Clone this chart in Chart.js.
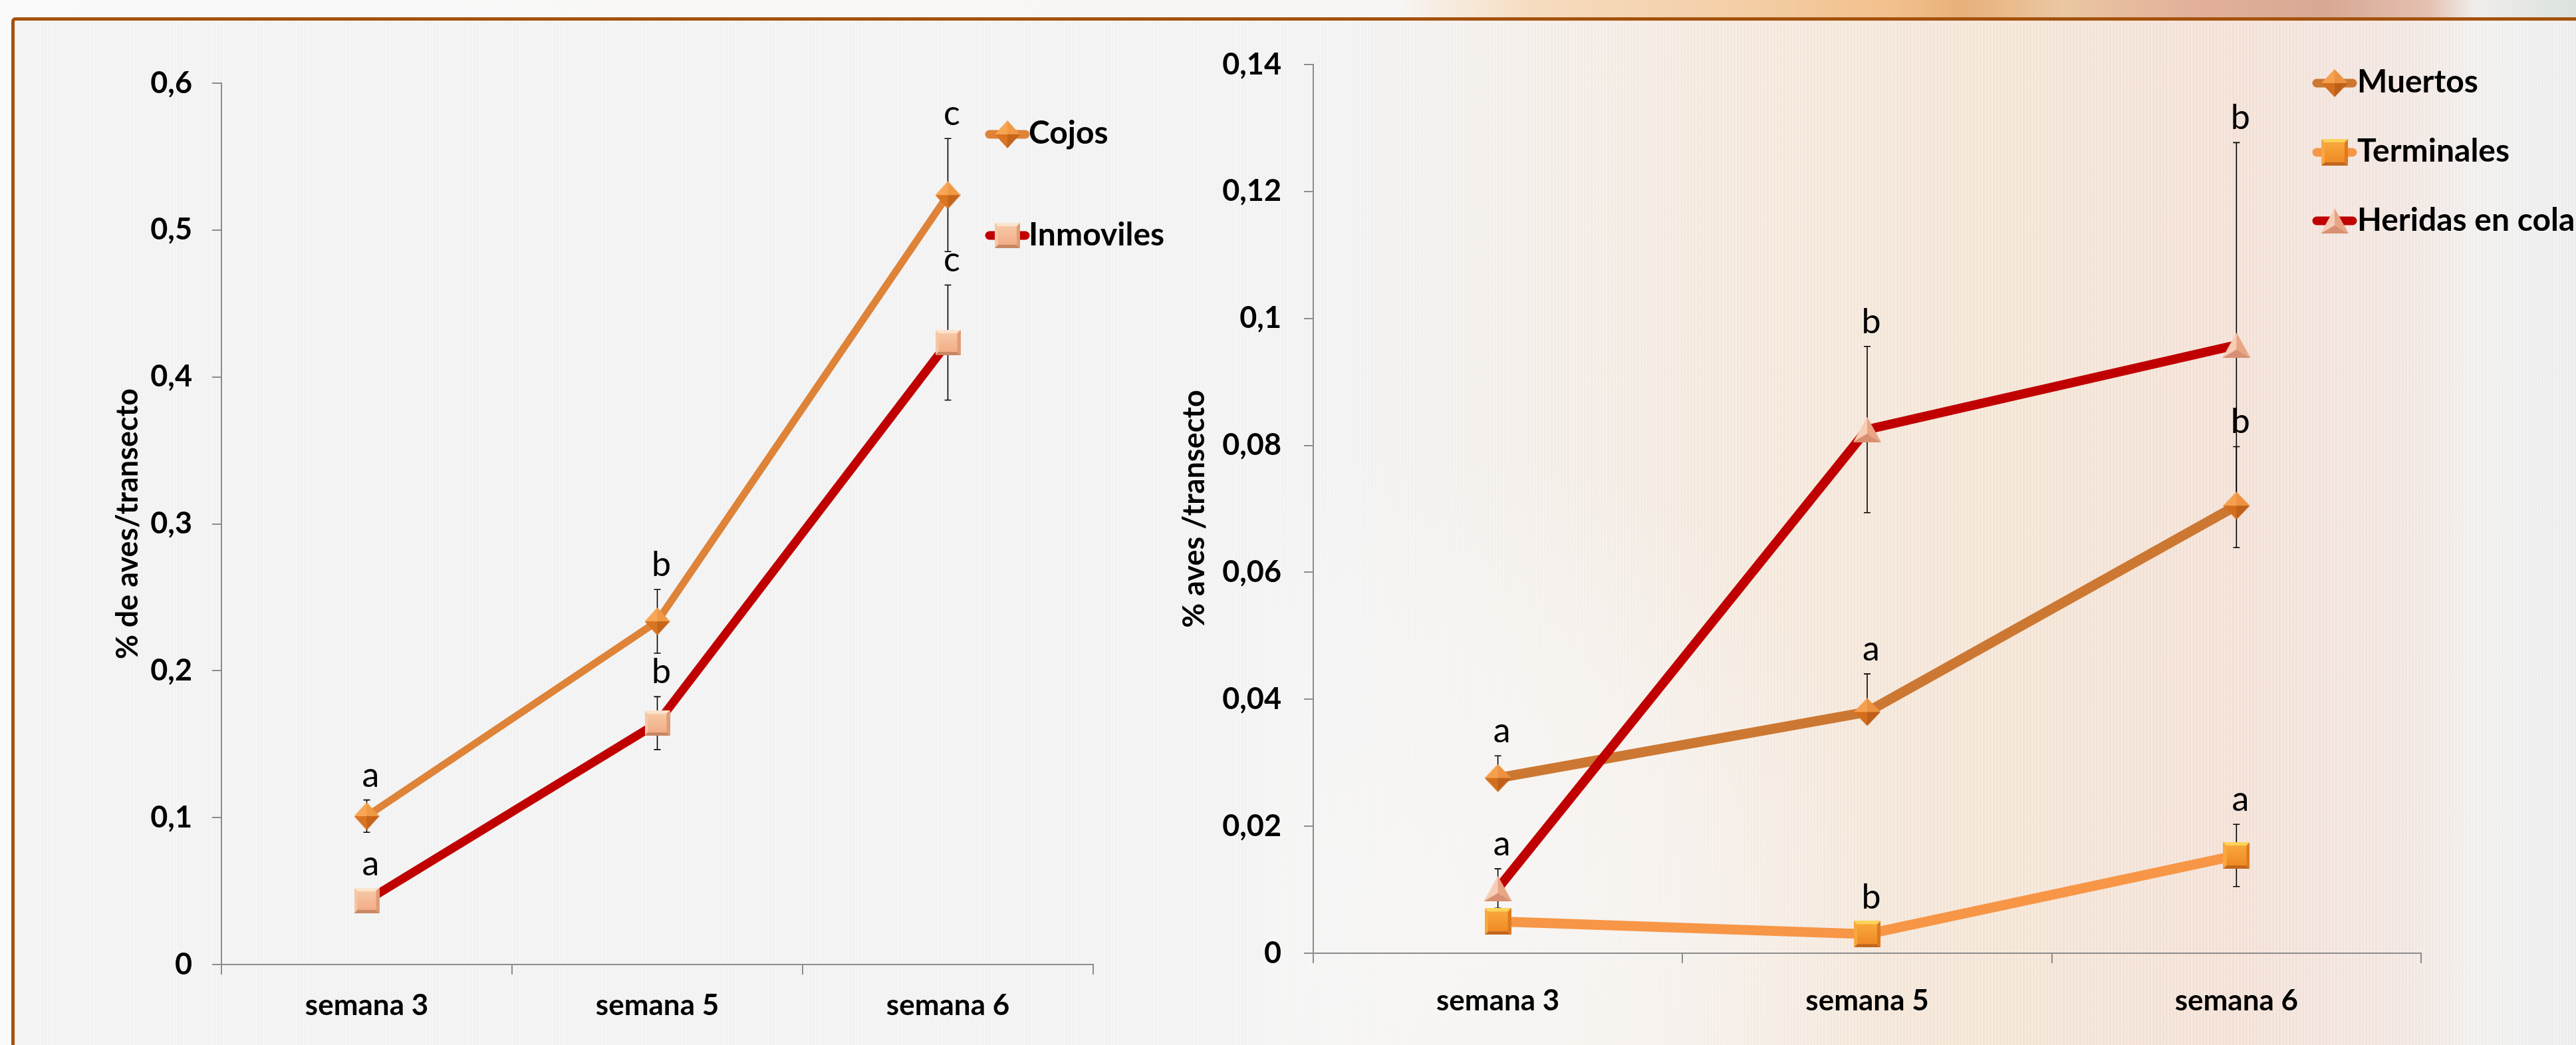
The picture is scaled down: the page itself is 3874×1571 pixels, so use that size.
<!DOCTYPE html>
<html><head><meta charset="utf-8">
<script src="https://cdn.jsdelivr.net/npm/chart.js@4.4.1/dist/chart.umd.min.js"></script>
<style>
html,body{margin:0;padding:0;width:3874px;height:1571px;overflow:hidden;background:#FAFAFA;font-family:Lato,'Noto Sans',sans-serif;}
#top{position:absolute;left:0;top:0;width:3874px;height:30px;background:linear-gradient(to right,#FAFAFA 0px,#F8F6F4 2100px,#F6DCC0 2300px,#F4CFA8 2600px,#F2C08C 2850px,#E8B07A 2950px,#EBC7A2 3100px,#E2B09A 3300px,#D9A894 3500px,#E4C0B0 3650px,#F0EDEA 3720px,#DCE3DF 3874px);}
#frame{position:absolute;left:17px;top:26px;width:3900px;height:1600px;box-sizing:border-box;border:5px solid #A4520E;border-radius:6px;background:linear-gradient(to right,#F2F2F2 0px,#F2F2F2 2000px,#F3EEE9 2250px,#F4E8DC 2600px,#F4E4D5 3000px,#F3E0D6 3350px,#F2E6E1 3600px,#F1F0EF 3720px,#ECECEC 3874px);}
#glow{position:absolute;left:1900px;top:700px;width:900px;height:871px;background:radial-gradient(ellipse at 30% 80%,rgba(248,247,246,0.85) 0%,rgba(248,247,246,0.5) 45%,rgba(248,247,246,0) 75%);}
#frame:after{content:'';position:absolute;left:0;top:0;right:0;bottom:0;background:repeating-linear-gradient(to right,rgba(255,255,255,0) 0px,rgba(255,255,255,0) 3px,rgba(255,255,255,0.25) 3px,rgba(255,255,255,0.25) 5px);}
canvas.ch{position:absolute;left:0;top:0;}
.sw{position:absolute;}
.leg{position:absolute;font-family:Lato,'Noto Sans',sans-serif;font-weight:700;font-size:48px;line-height:48px;color:#000;white-space:nowrap;}
</style></head>
<body>
<div id="top"></div>
<div id="frame"></div>
<div id="glow"></div>
<canvas id="c1" class="ch" width="3874" height="1571"></canvas>
<canvas id="c2" class="ch" width="3874" height="1571"></canvas>
<div id="legends"></div>
<script>
// ---------- data ----------
const categories = ['semana 3', 'semana 5', 'semana 6'];

const yTicksLeft  = ['0', '0,1', '0,2', '0,3', '0,4', '0,5', '0,6'];
const yTicksRight = ['0', '0,02', '0,04', '0,06', '0,08', '0,1', '0,12', '0,14'];

const titleLeft  = '% de aves/transecto';
const titleRight = '% aves /transecto';

const cojos          = [0.101, 0.2336, 0.5238];
const cojosErr       = [0.011, 0.0217, 0.0385];
const cojosLetters   = ['a', 'b', 'c'];

const inmoviles        = [0.0435, 0.1643, 0.4234];
const inmovilesErr     = [0.004, 0.018, 0.0392];
const inmovilesLetters = ['a', 'b', 'c'];

const muertos         = [0.0276, 0.0380, 0.0705];
const muertosErrPlus  = [0.0035, 0.006, 0.0093];
const muertosErrMinus = [0, 0, 0];
const muertosLetters  = ['a', 'a', 'b'];

const terminales        = [0.0050, 0.0030, 0.0154];
const terminalesErr     = [0, 0, 0.0049];
const terminalesLetters = ['', 'b', 'a'];

const heridas        = [0.0102, 0.0825, 0.0958];
const heridasErr     = [0.0031, 0.0131, 0.0319];
const heridasLetters = ['a', 'b', 'b'];

// ---------- marker images ----------
function cv(w, h) { const c = document.createElement('canvas'); c.width = w; c.height = h; return c; }
function poly(g, pts, col) { g.beginPath(); g.moveTo(pts[0][0], pts[0][1]); for (let i = 1; i < pts.length; i++) g.lineTo(pts[i][0], pts[i][1]); g.closePath(); g.fillStyle = col; g.fill(); }
function diamond(w, h, c) {
  const k = cv(w, h), g = k.getContext('2d'), x = w / 2, y = h / 2;
  poly(g, [[x, 0], [0, y], [x, y]], c[0]);
  poly(g, [[x, 0], [w, y], [x, y]], c[1]);
  poly(g, [[0, y], [x, h], [x, y]], c[2]);
  poly(g, [[w, y], [x, h], [x, y]], c[3]);
  return k;
}
function square(s, b, c) {
  const k = cv(s, s), g = k.getContext('2d');
  poly(g, [[0, 0], [s, 0], [s - b, b], [b, b]], c[1]);
  poly(g, [[0, 0], [b, b], [b, s - b], [0, s]], c[2]);
  poly(g, [[s, 0], [s, s], [s - b, s - b], [s - b, b]], c[3]);
  poly(g, [[0, s], [b, s - b], [s - b, s - b], [s, s]], c[4]);
  const gr = g.createLinearGradient(0, b, 0, s - b);
  gr.addColorStop(0, c[5]); gr.addColorStop(1, c[0]);
  g.fillStyle = gr; g.fillRect(b, b, s - 2 * b, s - 2 * b);
  return k;
}
function triangle(w, h, c) {
  const k = cv(w, h), g = k.getContext('2d'), x = w / 2;
  const cx = x, cy = h * 0.68;
  poly(g, [[x, 0], [0, h], [cx, cy]], c[0]);
  poly(g, [[x, 0], [w, h], [cx, cy]], c[1]);
  poly(g, [[0, h], [w, h], [cx, cy]], c[2]);
  return k;
}
const mkCojos      = diamond(38, 42, ['#F8A655', '#F09843', '#D97422', '#C4651B']);
const mkMuertos    = diamond(40, 42, ['#F5A04E', '#EC9240', '#D26E1E', '#BE6019']);
const mkInmoviles  = square(38, 5, ['#F1AE86', '#FCE3CE', '#F6C7A6', '#E09C74', '#C98662', '#F7C8A6']);
const mkTerminales = square(40, 5, ['#F08A25', '#FCD45A', '#F9A841', '#DC7A1E', '#C2661C', '#F8A73C']);
const mkHeridas    = triangle(42, 38, ['#F7CDB6', '#E9A584', '#D99072']);

// ---------- plugin: error bars + letters ----------
const errPlugin = {
  id: 'errLetters',
  beforeDatasetsDraw(chart) {
    const ctx = chart.ctx, ys = chart.scales.y;
    ctx.save(); ctx.strokeStyle = '#000'; ctx.lineWidth = 1.6;
    chart.data.datasets.forEach((ds, di) => {
      const meta = chart.getDatasetMeta(di);
      ds.data.forEach((v, i) => {
        const p = meta.data[i]; if (!p) return;
        const up = ds.errPlus[i], dn = ds.errMinus[i];
        if (!up && !dn) return;
        const yt = ys.getPixelForValue(v + up), yb = ys.getPixelForValue(v - dn);
        ctx.beginPath(); ctx.moveTo(p.x, yt); ctx.lineTo(p.x, yb);
        if (up) { ctx.moveTo(p.x - 5, yt); ctx.lineTo(p.x + 5, yt); }
        if (dn) { ctx.moveTo(p.x - 5, yb); ctx.lineTo(p.x + 5, yb); }
        ctx.stroke();
      });
    });
    ctx.restore();
  },
  afterDatasetsDraw(chart) {
    const ctx = chart.ctx, ys = chart.scales.y;
    ctx.save(); ctx.fillStyle = '#000'; ctx.font = '400 52px Lato'; ctx.textAlign = 'center'; ctx.textBaseline = 'alphabetic';
    chart.data.datasets.forEach((ds, di) => {
      const meta = chart.getDatasetMeta(di);
      ds.data.forEach((v, i) => {
        const p = meta.data[i]; const t = ds.letters[i]; if (!p || !t) return;
        const top = Math.min(ys.getPixelForValue(v + ds.errPlus[i]), ys.getPixelForValue(v) - 18);
        ctx.fillText(t, p.x + 6, top - 20);
      });
    });
    ctx.restore();
  }
};

function ds(label, data, color, width, marker, plus, minus, letters, order) {
  return { label, data, borderColor: color, backgroundColor: color, borderWidth: width, pointStyle: marker,
    pointRadius: 18, pointHoverRadius: 18, tension: 0, fill: false, borderJoinStyle: 'round',
    errPlus: plus, errMinus: minus, letters, order };
}

function makeChart(id, o) {
  const axisGrey = '#8C8C8C';
  return new Chart(document.getElementById(id), {
    type: 'line',
    data: { labels: categories, datasets: o.datasets },
    options: {
      responsive: false, animation: false, devicePixelRatio: 1,
      layout: { padding: o.padding },
      plugins: { legend: { display: false }, tooltip: { enabled: false } },
      scales: {
        x: {
          offset: true,
          grid: { offset: true, drawOnChartArea: false, drawTicks: true, tickLength: 15, color: axisGrey, lineWidth: 2 },
          border: { display: true, color: axisGrey, width: 2 },
          ticks: { font: { family: 'Lato', size: 44, weight: 'bold' }, color: '#000', padding: o.xPad, maxRotation: 0, autoSkip: false },
          afterFit: s => { s.height = o.xH; }
        },
        y: {
          min: 0, max: o.max,
          ticks: { stepSize: o.step, font: { family: 'Lato', size: 45, weight: 'bold' }, color: '#000', padding: o.yPad,
            callback: (v, i) => o.yTicks[i] },
          grid: { drawOnChartArea: false, drawTicks: true, tickLength: 14, color: axisGrey, lineWidth: 2 },
          border: { display: true, color: axisGrey, width: 2 },
          title: { display: true, text: o.title, font: { family: 'Lato', size: 45, weight: 'bold' }, color: '#000', padding: 0 },
          afterFit: s => { s.width = o.yW; }
        }
      }
    },
    plugins: [errPlugin]
  });
}

function legend(items) {
  const host = document.getElementById('legends');
  items.forEach(it => {
    const w = 70, h = 46, k = cv(w, h), g = k.getContext('2d');
    g.strokeStyle = it.color; g.lineWidth = 13; g.lineCap = 'round';
    g.beginPath(); g.moveTo(8, h / 2); g.lineTo(w - 8, h / 2); g.stroke();
    g.drawImage(it.marker, (w - it.marker.width) / 2, (h - it.marker.height) / 2);
    k.className = 'sw'; k.style.left = (it.cx - w / 2) + 'px'; k.style.top = (it.cy - h / 2) + 'px';
    host.appendChild(k);
    const d = document.createElement('div'); d.className = 'leg'; d.textContent = it.label;
    d.style.left = it.tx + 'px'; d.style.top = (it.base - 43) + 'px';
    host.appendChild(d);
  });
}

function draw() {
  makeChart('c1', {
    padding: { left: 165, top: 125, right: 2230, bottom: 0 }, yW: 168, xH: 121, xPad: 20, yPad: 30,
    max: 0.6, step: 0.1, yTicks: yTicksLeft, title: titleLeft,
    datasets: [
      ds('Cojos', cojos, '#DE8338', 11, mkCojos, cojosErr, cojosErr, cojosLetters, 0),
      ds('Inmoviles', inmoviles, '#C00000', 13, mkInmoviles, inmovilesErr, inmovilesErr, inmovilesLetters, 1)
    ]
  });
  makeChart('c2', {
    padding: { left: 1769, top: 97, right: 233, bottom: 0 }, yW: 206, xH: 138, xPad: 30, yPad: 34,
    max: 0.14, step: 0.02, yTicks: yTicksRight, title: titleRight,
    datasets: [
      ds('Muertos', muertos, '#CC7833', 15, mkMuertos, muertosErrPlus, muertosErrMinus, muertosLetters, 1),
      ds('Terminales', terminales, '#F79646', 15, mkTerminales, terminalesErr, terminalesErr, terminalesLetters, 2),
      ds('Heridas en cola', heridas, '#C00000', 14, mkHeridas, heridasErr, heridasErr, heridasLetters, 0)
    ]
  });
  legend([
    { label: 'Cojos', color: '#DE8338', marker: mkCojos, cx: 1515, cy: 202, tx: 1547, base: 217 },
    { label: 'Inmoviles', color: '#C00000', marker: mkInmoviles, cx: 1515, cy: 354, tx: 1547, base: 370 },
    { label: 'Muertos', color: '#CC7833', marker: mkMuertos, cx: 3511, cy: 125, tx: 3545, base: 140 },
    { label: 'Terminales', color: '#F79646', marker: mkTerminales, cx: 3511, cy: 229, tx: 3545, base: 244 },
    { label: 'Heridas en cola', color: '#C00000', marker: mkHeridas, cx: 3511, cy: 332, tx: 3545, base: 348 }
  ]);
}

Promise.all([
  document.fonts.load('bold 44px Lato'),
  document.fonts.load('400 52px Lato')
]).then(draw, draw);
</script>
</body></html>
